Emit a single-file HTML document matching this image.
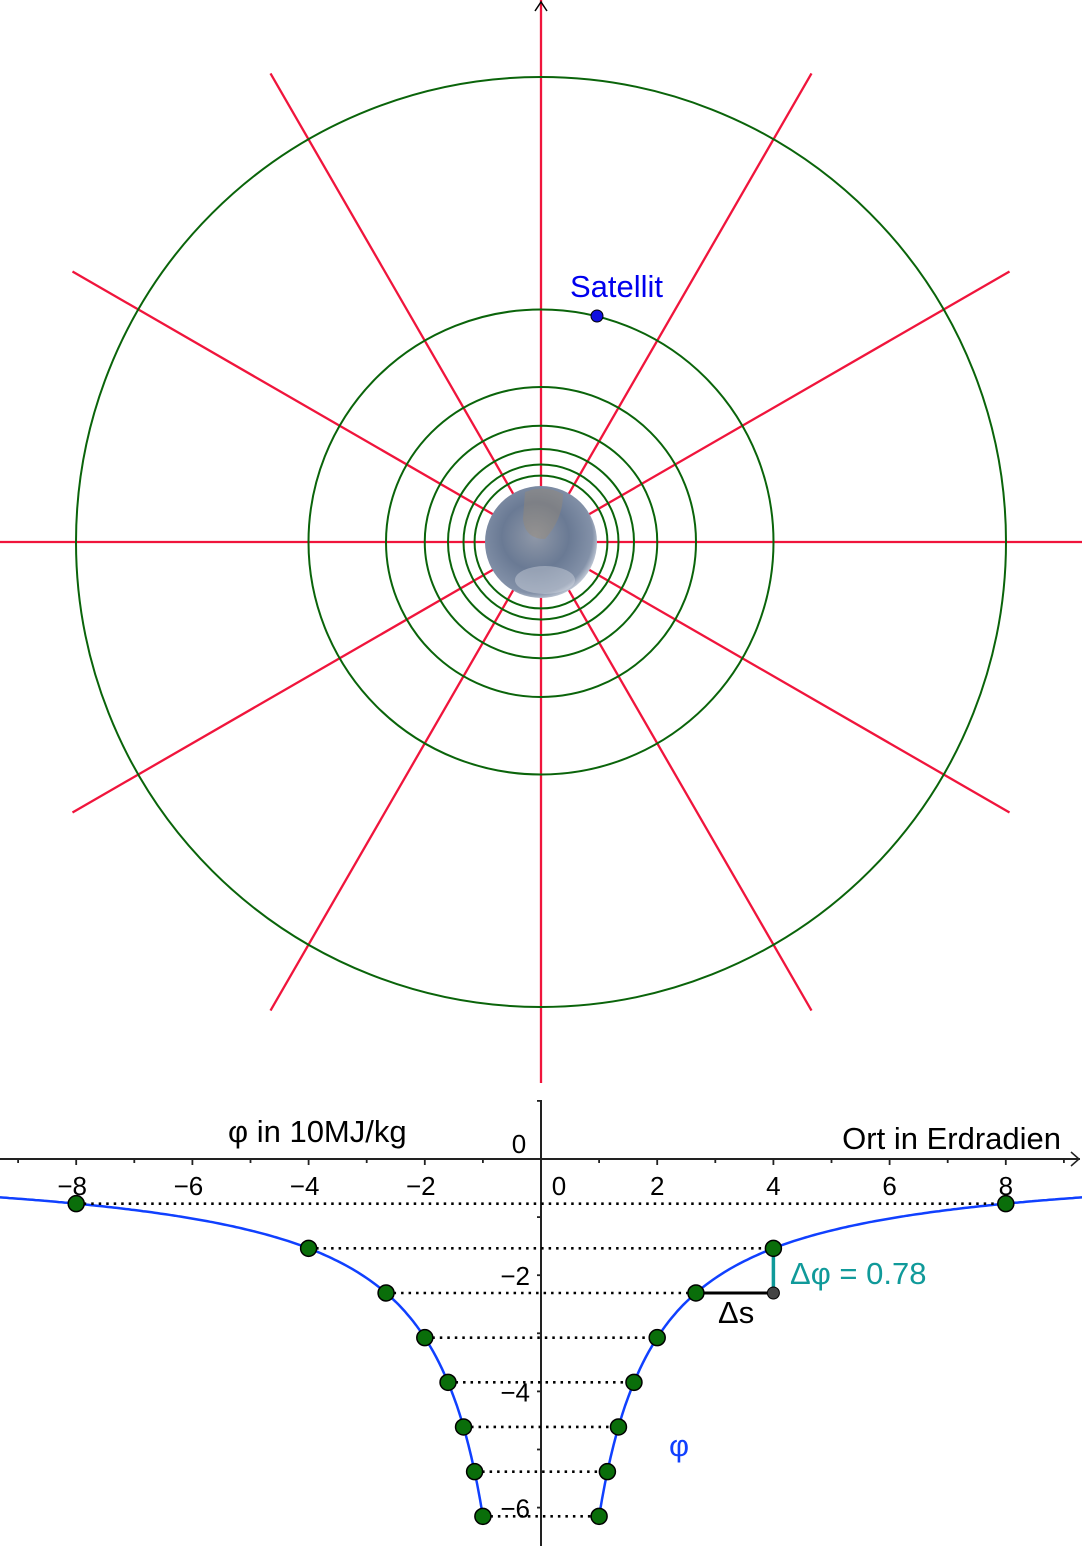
<!DOCTYPE html>
<html><head><meta charset="utf-8"><style>html,body{margin:0;padding:0;background:#fff}svg{display:block}text{font-family:"Liberation Sans",sans-serif}</style></head>
<body>
<svg id="s" width="1082" height="1546" viewBox="0 0 1082 1546" xmlns="http://www.w3.org/2000/svg">
<defs>
<radialGradient id="e" cx="0.45" cy="0.45" r="0.6">
<stop offset="0" stop-color="#8f98a8"/><stop offset="0.5" stop-color="#6a7a94"/><stop offset="0.85" stop-color="#8391a8"/><stop offset="1" stop-color="#dfe4ec"/>
</radialGradient>
</defs>
<g id="top"></g>
<g id="bot"></g>
</svg>
<script>
var NS="http://www.w3.org/2000/svg";
function el(p,t,a,txt){var e=document.createElementNS(NS,t);for(var k in a)e.setAttribute(k,a[k]);if(txt!=null)e.textContent=txt;p.appendChild(e);return e;}
var T=document.getElementById('top'),B=document.getElementById('bot');
var cx=541,cy=542;
el(T,'line',{x1:cx,y1:0,x2:cx,y2:1083,stroke:'#f0153c','stroke-width':2.3});
el(T,'line',{x1:0,y1:cy,x2:1082,y2:cy,stroke:'#f0153c','stroke-width':2.3});
[30,60].forEach(function(a){var r=a*Math.PI/180,L=541;
 var dx=L*Math.sin(r),dy=L*Math.cos(r);
 el(T,'line',{x1:cx-dx,y1:cy-dy,x2:cx+dx,y2:cy+dy,stroke:'#f0153c','stroke-width':2.3});
 el(T,'line',{x1:cx+dx,y1:cy-dy,x2:cx-dx,y2:cy+dy,stroke:'#f0153c','stroke-width':2.3});});
for(var n=1;n<=7;n++)el(T,'circle',{cx:cx,cy:cy,r:465/n,fill:'none',stroke:'#0a640a','stroke-width':2});
el(T,'circle',{cx:cx,cy:cy,r:56,fill:'url(#e)'});
el(T,'path',{d:'M525 492 q20 -8 38 2 q0 25 -18 45 q-20 0 -22 -20z',fill:'#9a8a70',opacity:0.4});
el(T,'ellipse',{cx:545,cy:580,rx:30,ry:14,fill:'#e8ecf2',opacity:0.35});
el(T,'circle',{cx:597,cy:316,r:6,fill:'#1010e0',stroke:'#000','stroke-width':1});
el(T,'text',{x:570,y:297,fill:'#0000ee','font-size':31},'Satellit');
el(T,'path',{d:'M535 11 L541 2 L547 11',fill:'none',stroke:'#000','stroke-width':1.5});
var ox=541,oy=1159,u=58.1,k=6.15;
function X(x){return ox+x*u}function Y(y){return oy-y*u}
el(B,'line',{x1:0,y1:oy,x2:1080,y2:oy,stroke:'#222','stroke-width':2});
el(B,'path',{d:'M1071 1152 L1079 1159 L1071 1166',fill:'none',stroke:'#222','stroke-width':1.5});
el(B,'line',{x1:ox,y1:1100,x2:ox,y2:1546,stroke:'#222','stroke-width':2});
for(var i=-9;i<=9;i++){if(i==0)continue;el(B,'line',{x1:X(i),y1:oy,x2:X(i),y2:oy+(i%2?4:6),stroke:'#222','stroke-width':1.8});
 if(i%2==0)el(B,'text',{x:X(i)+(i<0?-4:0),y:1195,'font-size':26,'text-anchor':'middle'},(i<0?'\u2212':'')+Math.abs(i));}
el(B,'text',{x:559,y:1195,'font-size':26,'text-anchor':'middle'},'0');
el(B,'text',{x:519,y:1153,'font-size':26,'text-anchor':'middle'},'0');
for(var j=-6;j<=1;j++){if(j==0)continue;el(B,'line',{x1:ox-4,y1:Y(j),x2:ox,y2:Y(j),stroke:'#222','stroke-width':1.8});
 if(j%2==0&&j<0)el(B,'text',{x:530,y:Y(j)+10,'font-size':26,'text-anchor':'end'},'\u2212'+Math.abs(j));}
el(B,'text',{x:228,y:1142,'font-size':31},'\u03c6 in 10MJ/kg');
el(B,'text',{x:1061,y:1149,'font-size':31,'text-anchor':'end'},'Ort in Erdradien');
function cur(s){var d='';for(var x=1;x<=9.4;x+=0.05){d+=(d?'L':'M')+X(s*x).toFixed(1)+' '+Y(-k/x).toFixed(1);}return d;}
el(B,'path',{d:cur(1),fill:'none',stroke:'#1040ff','stroke-width':2.5});
el(B,'path',{d:cur(-1),fill:'none',stroke:'#1040ff','stroke-width':2.5});
for(var n=1;n<=8;n++){var x=8/n,y=Y(-k/x);
 el(B,'line',{x1:X(-x),y1:y,x2:X(x),y2:y,stroke:'#000','stroke-width':2.6,'stroke-dasharray':'2.5 5'});}
var y4=Y(-k/4),y83=Y(-k/(8/3));
el(B,'line',{x1:X(8/3),y1:y83,x2:X(4),y2:y83,stroke:'#000','stroke-width':3});
el(B,'line',{x1:X(4),y1:y83,x2:X(4),y2:y4,stroke:'#109a9a','stroke-width':3.5});
el(B,'circle',{cx:X(4),cy:y83,r:6,fill:'#444',stroke:'#000','stroke-width':1});
for(var n=1;n<=8;n++){var x=8/n,y=Y(-k/x);
 [-1,1].forEach(function(s){el(B,'circle',{cx:X(s*x),cy:y,r:8,fill:'#0a6e0a',stroke:'#000','stroke-width':1.5});});}
el(B,'text',{x:718,y:1323,'font-size':31},'\u0394s');
el(B,'text',{x:790,y:1284,'font-size':31,fill:'#109a9a'},'\u0394\u03c6 = 0.78');
el(B,'text',{x:669,y:1456,'font-size':31,fill:'#1040ff'},'\u03c6');
</script>
</body></html>
